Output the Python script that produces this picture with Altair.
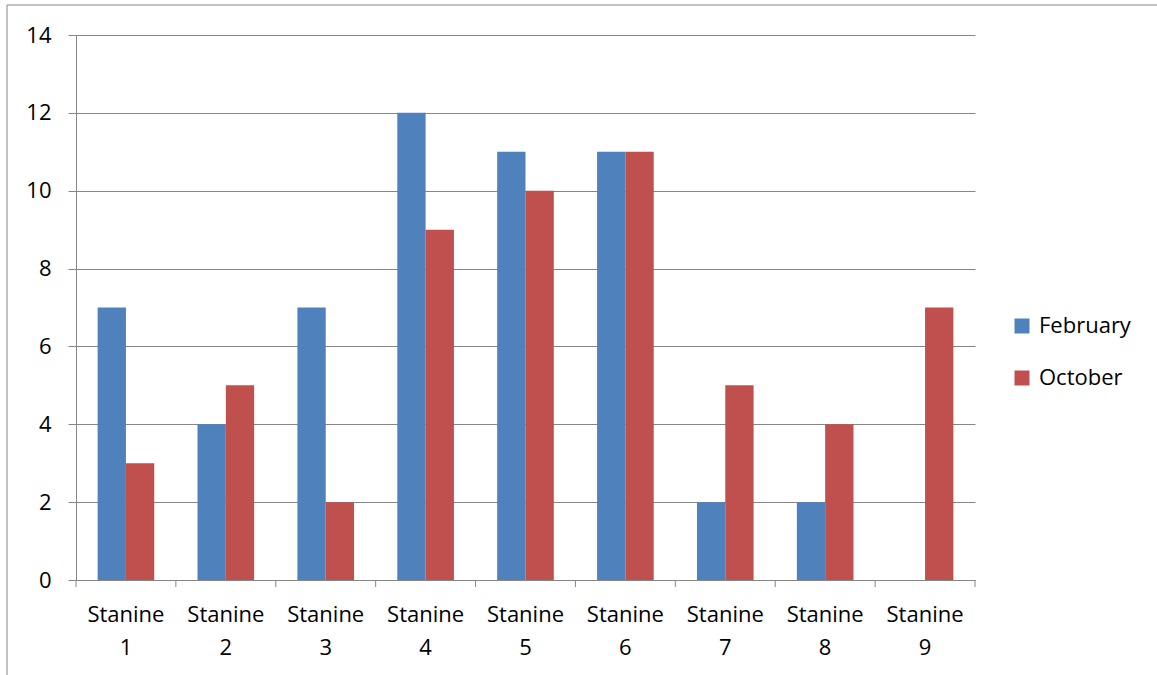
import altair as alt
import pandas as pd

# Stanine distribution counts for two test sittings
categories = ["Stanine 1", "Stanine 2", "Stanine 3", "Stanine 4", "Stanine 5",
              "Stanine 6", "Stanine 7", "Stanine 8", "Stanine 9"]
february = [7, 4, 7, 12, 11, 11, 2, 2, 0]
october = [3, 5, 2, 9, 10, 11, 5, 4, 7]
series = ["February", "October"]
y_ticks = [0, 2, 4, 6, 8, 10, 12, 14]
# category boundaries on the x axis (0 = left edge, 9 = right edge)
boundaries = list(range(len(categories) + 1))

rows = []
for cat, feb, octo in zip(categories, february, october):
    rows.append({"stanine": cat, "series": "February", "count": feb})
    rows.append({"stanine": cat, "series": "October", "count": octo})
df = pd.DataFrame(rows)

GRID = "#868686"
FONT = "Open Sans"
FS = 22

bars = alt.Chart(df).mark_bar().encode(
    x=alt.X(
        "stanine:N",
        sort=categories,
        title=None,
        scale=alt.Scale(paddingInner=0.433, paddingOuter=0.2165),
        axis=alt.Axis(
            labelAngle=0,
            labelExpr="split(datum.label, ' ')",
            labelLineHeight=33,
            labelPadding=24,
            ticks=False,
            labelFontSize=FS,
            labelBaseline="top",
        ),
    ),
    xOffset=alt.XOffset("series:N", sort=series,
                        scale=alt.Scale(paddingInner=0, paddingOuter=0)),
    y=alt.Y(
        "count:Q",
        title=None,
        scale=alt.Scale(domain=[0, 14], nice=False),
        axis=alt.Axis(values=y_ticks, grid=True, tickSize=8, labelPadding=17,
                      labelFontSize=FS),
    ),
    color=alt.Color(
        "series:N",
        scale=alt.Scale(domain=series, range=["#4F81BD", "#C0504D"]),
        legend=alt.Legend(
            title=None,
            orient="none",
            legendX=935,
            legendY=280,
            symbolType="square",
            symbolSize=225,
            symbolStrokeWidth=0,
            labelFontSize=FS,
            labelOffset=6,
            rowPadding=30,
            padding=0,
        ),
    ),
)

# tick marks hanging below the x axis at each category boundary
ticks = alt.Chart(pd.DataFrame({"b": boundaries})).mark_rule(
    color=GRID, strokeWidth=1
).encode(
    x=alt.X("b:Q", scale=alt.Scale(domain=[0, len(categories)], nice=False, zero=False),
            axis=None),
    y=alt.value(545),
    y2=alt.value(552),
)

# thin frame along the top and left edges of the chart
frame = alt.Chart(pd.DataFrame({"k": [0]}))
top_edge = frame.mark_rule(color=GRID, strokeWidth=1).encode(
    x=alt.value(-69), x2=alt.value(1100), y=alt.value(-30))
left_edge = frame.mark_rule(color=GRID, strokeWidth=1).encode(
    x=alt.value(-69), y=alt.value(-30), y2=alt.value(660))

chart = alt.layer(bars, ticks, top_edge, left_edge).resolve_scale(
    x="independent"
).properties(
    width=899,
    height=545,
    autosize=alt.AutoSizeParams(type="none"),
    padding={"left": 76, "top": 35, "right": 182, "bottom": 95},
    background="white",
).configure_view(stroke=None).configure_axis(
    domainColor=GRID,
    tickColor=GRID,
    gridColor=GRID,
    gridOpacity=1,
    domainWidth=1,
    tickWidth=1,
    labelColor="black",
    labelFont=FONT,
).configure_legend(labelFont=FONT, labelColor="black")

chart.save("out.html", embed_options={"renderer": "svg", "actions": False})
